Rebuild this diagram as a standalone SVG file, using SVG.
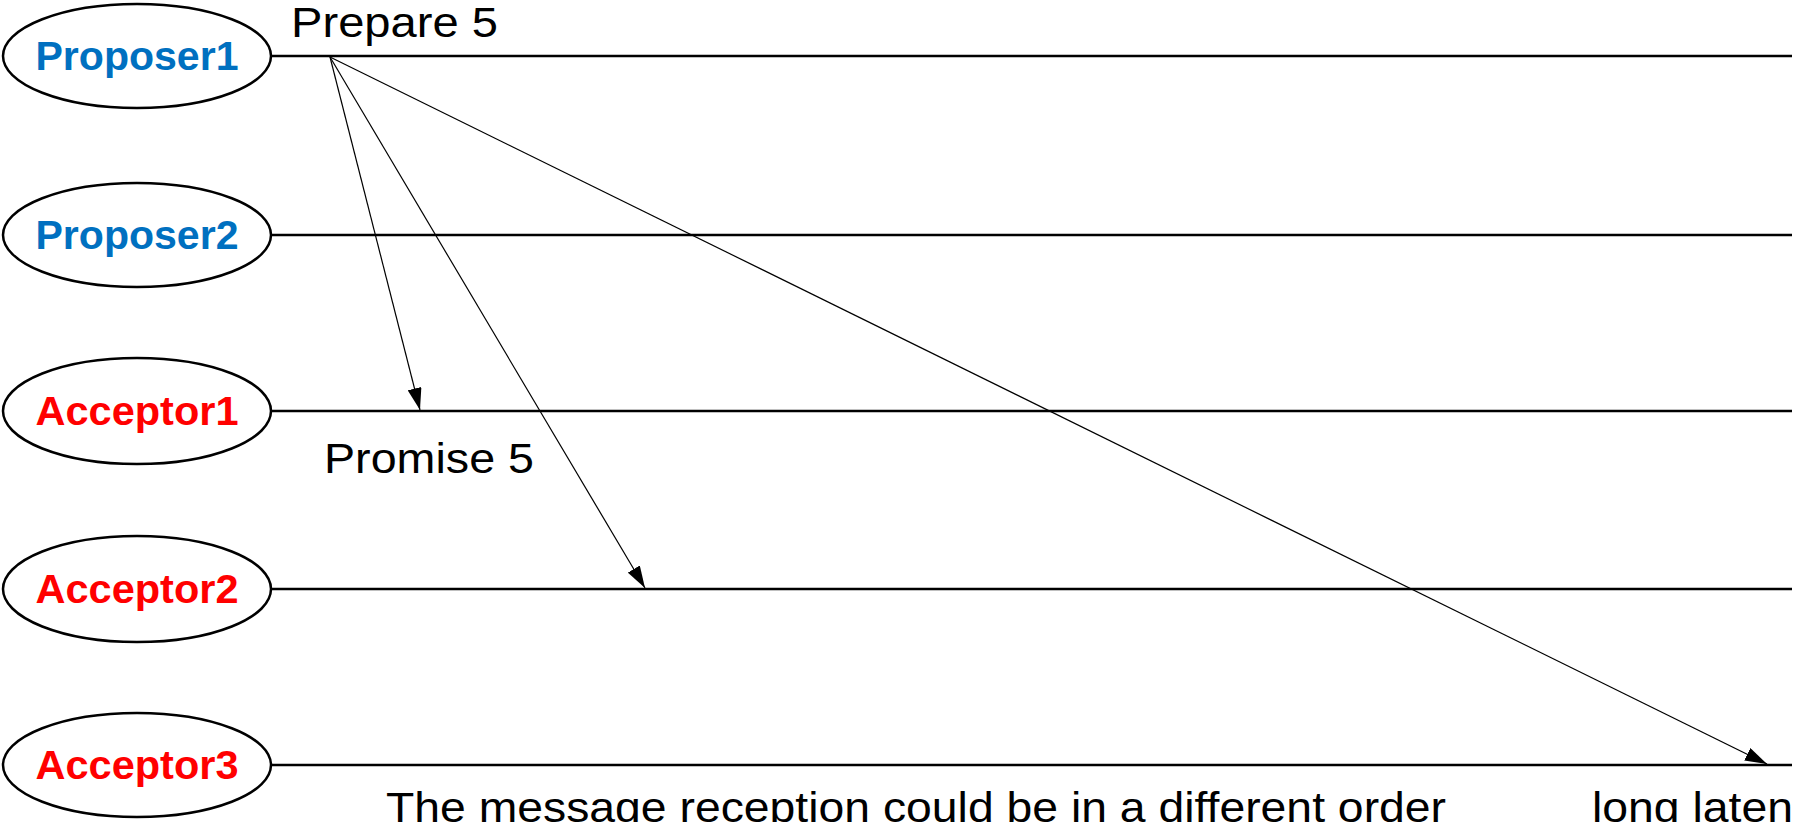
<svg xmlns="http://www.w3.org/2000/svg" width="1796" height="822" viewBox="0 0 1796 822">
<style>
.node ellipse{fill:#fff;stroke:#000;stroke-width:2.5}
.lbl{font-family:"Liberation Sans",Arial,sans-serif;font-weight:bold;font-size:40px;text-anchor:middle}
.p{fill:#0070C0}
.a{fill:#FF0000}
.life{stroke:#000;stroke-width:2.4;fill:none}
.msg{stroke:#000;stroke-width:1.2;fill:none;marker-end:url(#ah)}
.t{font-family:"Liberation Sans",Arial,sans-serif;font-size:42px;fill:#000}
</style>
<defs>
<marker id="ah" markerWidth="22" markerHeight="14" refX="22" refY="7" orient="auto" markerUnits="userSpaceOnUse">
<path d="M0,0 L22,7 L0,14 Z" fill="#000"/>
</marker>
</defs>
<rect width="1796" height="822" fill="#fff"/>
<g id="lifelines">
<line class="life" x1="270" y1="56" x2="1792" y2="56"/>
<line class="life" x1="270" y1="235" x2="1792" y2="235"/>
<line class="life" x1="270" y1="411" x2="1792" y2="411"/>
<line class="life" x1="270" y1="589" x2="1792" y2="589"/>
<line class="life" x1="270" y1="765" x2="1792" y2="765"/>
</g>
<g id="proposer1" class="node"><ellipse cx="137" cy="56" rx="134" ry="52"/><text class="lbl p" x="137" y="70" textLength="203" lengthAdjust="spacingAndGlyphs">Proposer1</text></g>
<g id="proposer2" class="node"><ellipse cx="137" cy="235" rx="134" ry="52"/><text class="lbl p" x="137" y="249" textLength="203" lengthAdjust="spacingAndGlyphs">Proposer2</text></g>
<g id="acceptor1" class="node"><ellipse cx="137" cy="411" rx="134" ry="53"/><text class="lbl a" x="137" y="425" textLength="203" lengthAdjust="spacingAndGlyphs">Acceptor1</text></g>
<g id="acceptor2" class="node"><ellipse cx="137" cy="589" rx="134" ry="53"/><text class="lbl a" x="137" y="603" textLength="203" lengthAdjust="spacingAndGlyphs">Acceptor2</text></g>
<g id="acceptor3" class="node"><ellipse cx="137" cy="765" rx="134" ry="52"/><text class="lbl a" x="137" y="779" textLength="203" lengthAdjust="spacingAndGlyphs">Acceptor3</text></g>
<g id="connectors">
<line class="msg" x1="330" y1="57" x2="420" y2="410"/>
<line class="msg" x1="330" y1="57" x2="645" y2="588"/>
<line class="msg" x1="330" y1="57" x2="1767" y2="764"/>
</g>
<g id="labels">
<text class="t" x="291" y="37" textLength="207" lengthAdjust="spacingAndGlyphs">Prepare 5</text>
<text class="t" x="324" y="473" textLength="210" lengthAdjust="spacingAndGlyphs">Promise 5</text>
<text class="t" x="386" y="822" textLength="1060" lengthAdjust="spacingAndGlyphs">The message reception could be in a different order</text>
<text class="t" x="1592" y="822" textLength="201" lengthAdjust="spacingAndGlyphs">long laten</text>
</g>
</svg>
